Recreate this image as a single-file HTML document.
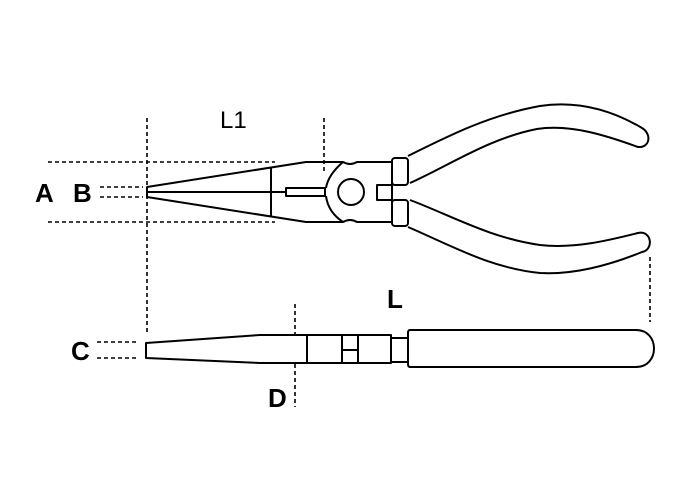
<!DOCTYPE html>
<html><head><style>
html,body{margin:0;padding:0;background:#fff;}
svg{display:block;}
text{font-family:"Liberation Sans",Arial,sans-serif;font-weight:bold;fill:#000;}
</style></head><body>
<svg width="688" height="500" viewBox="0 0 688 500" xmlns="http://www.w3.org/2000/svg">
<g fill="none" stroke="#000" stroke-width="1.6" stroke-dasharray="4,3">
<line x1="147" y1="118" x2="147" y2="332"/>
<line x1="48" y1="162" x2="275" y2="162"/>
<line x1="48" y1="222" x2="275" y2="222"/>
<line x1="100" y1="187" x2="143" y2="187"/>
<line x1="100" y1="197" x2="143" y2="197"/>
<line x1="324" y1="118" x2="324" y2="173"/>
<line x1="650" y1="257" x2="650" y2="322"/>
<line x1="97" y1="342" x2="138" y2="342"/>
<line x1="97" y1="358" x2="138" y2="358"/>
<line x1="295" y1="304" x2="295" y2="335"/>
<line x1="295" y1="364" x2="295" y2="407"/>
</g>
<g fill="none" stroke="#000" stroke-width="2" stroke-linejoin="round">
<path d="M147,187 L306,162 L343,162 Q350,166 357,162 L392,162 L392,222 L357,222 Q350,218 343,222 L306,222 L147,197 Z"/>
<line x1="147" y1="192" x2="286" y2="192"/>
<rect x="286" y="188" width="39" height="8"/>
<line x1="271" y1="168" x2="271" y2="217"/>
<path d="M343,162 Q328,175 326,188 M326,196 Q328,212 343,222"/>
<circle cx="351" cy="192" r="13"/>
<path d="M392,185 L377,185 L377,200 L392,200"/>
<rect x="392" y="158" width="16" height="27" rx="3"/>
<rect x="392" y="200" width="16" height="26" rx="3"/>
<path d="M408,156 C450,135 490,115 540,106 C580,100 615,112 642,128 C652,134 650,148 638,147 C605,135 570,124 537,129 C490,138 450,165 410,183"/>
<path d="M410,200 C450,215 490,238 540,245 C575,249 610,240 638,233 C652,230 654,250 642,252 C610,265 575,275 540,273 C490,268 450,245 408,227"/>
<path d="M146,343 L260,335 L307,335 L307,363 L260,363 L146,358 Z"/>
<rect x="307" y="335" width="84" height="28"/>
<line x1="342" y1="335" x2="342" y2="363"/>
<line x1="358" y1="335" x2="358" y2="363"/>
<line x1="342" y1="350" x2="358" y2="350"/>
<rect x="391" y="338" width="17" height="24"/>
<path d="M410,330 L636,330 C660,330 660,367 636,367 L410,367 Q408,367 408,364 L408,333 Q408,330 410,330 Z"/>
</g>
<text x="220" y="128" font-size="24" style="font-weight:normal">L1</text>
<text x="35" y="202" font-size="26">A</text>
<text x="73" y="202" font-size="26">B</text>
<text x="387" y="308" font-size="26">L</text>
<text x="71" y="360" font-size="26">C</text>
<text x="268" y="407" font-size="26">D</text>
</svg>
</body></html>
